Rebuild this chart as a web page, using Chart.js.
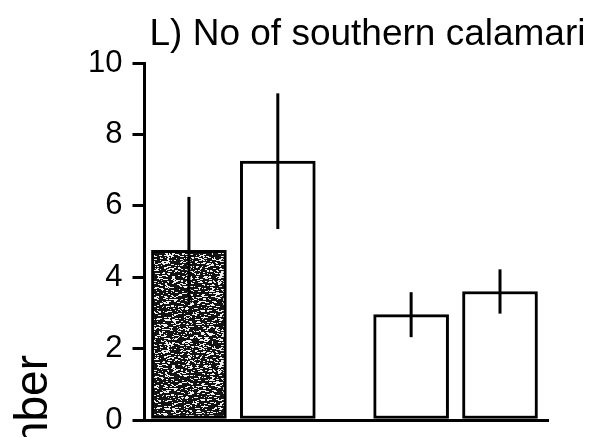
<!DOCTYPE html>
<html>
<head>
<meta charset="utf-8">
<script src="https://cdn.jsdelivr.net/npm/chart.js@4.4.1/dist/chart.umd.min.js"></script>
<style>
  html, body { margin: 0; padding: 0; background: #fff; }
  #wrap { width: 599px; height: 437px; }
</style>
</head>
<body>
<div id="wrap"><canvas id="myChart" width="599" height="437"></canvas></div>
<script>
// Chart data
const titleText = 'L) No of southern calamari';
const yLabel = 'Number';
const groupX = [1, 2, 3.5, 4.5];          // bar order along the x axis (gap between pairs)
const means = [4.75, 7.25, 2.95, 3.6];
const errors = [1.5, 1.9, 0.63, 0.62];
const yTicks = [0, 2, 4, 6, 8, 10];

// Stippled dark fill for the first bar
function makeStipple() {
    const c = document.createElement('canvas');
    c.width = 97; c.height = 89;
    const g = c.getContext('2d');
    g.fillStyle = '#121212';
    g.fillRect(0, 0, c.width, c.height);
    g.fillStyle = '#f0f0f0';
    // cheap hash so the speckle is fixed from run to run
    const h = n => {
        const s = Math.sin(n * 12.9898 + 78.233) * 43758.5453;
        return s - Math.floor(s);
    };
    for (let i = 0; i < 1400; i++) {
        const px = Math.floor(h(i * 3 + 1) * c.width);
        const py = Math.floor(h(i * 3 + 2) * c.height);
        const len = 1 + Math.floor(h(i * 3 + 3) * 3);
        g.fillRect(px, py, len, 1);
    }
    return g.createPattern(c, 'repeat');
}

const fills = [makeStipple(), '#ffffff', '#ffffff', '#ffffff'];

// Error bars (vertical lines, no caps)
const errorBars = {
    id: 'errorBars',
    afterDatasetsDraw(chart) {
        const ctx = chart.ctx;
        const xs = chart.scales.x, ys = chart.scales.y;
        ctx.save();
        ctx.strokeStyle = '#000';
        ctx.lineWidth = 3;
        means.forEach((m, i) => {
            const x = xs.getPixelForValue(groupX[i]);
            ctx.beginPath();
            ctx.moveTo(x, ys.getPixelForValue(m - errors[i]));
            ctx.lineTo(x, ys.getPixelForValue(m + errors[i]));
            ctx.stroke();
        });
        ctx.restore();
    }
};

// Panel title and the (cropped) rotated y label
const labels = {
    id: 'labels',
    afterDraw(chart) {
        const ctx = chart.ctx;
        const area = chart.chartArea;
        ctx.save();
        ctx.fillStyle = '#000';
        ctx.font = '37px "Liberation Sans", Arial, sans-serif';
        ctx.textBaseline = 'alphabetic';
        ctx.textAlign = 'left';
        ctx.fillText(titleText, area.left + 5, 45);

        ctx.translate(47, 355);
        ctx.rotate(-Math.PI / 2);
        ctx.font = '46px "Liberation Sans", Arial, sans-serif';
        ctx.textAlign = 'right';
        ctx.fillText(yLabel, 0, 0);
        ctx.restore();
    }
};

window.onload = function () {
    const ctx = document.getElementById('myChart').getContext('2d');
    new Chart(ctx, {
        type: 'bar',
        data: {
            datasets: [{
                data: groupX.map((x, i) => ({ x: x, y: means[i] })),
                backgroundColor: fills,
                borderColor: '#000',
                borderWidth: 3,
                barThickness: 75,
                borderSkipped: false
            }]
        },
        options: {
            responsive: false,
            animation: false,
            layout: { padding: { left: 78, right: 51, top: 63, bottom: 17 } },
            scales: {
                x: {
                    type: 'linear',
                    offset: false,
                    min: 0.5,
                    max: 5.04,
                    grid: { display: false, drawTicks: false },
                    border: { display: true, color: '#000', width: 3 },
                    ticks: { display: false },
                    afterFit(scale) {
                        scale.height = 0;
                        scale.paddingLeft = 0;
                        scale.paddingRight = 0;
                    }
                },
                y: {
                    min: 0,
                    max: 10,
                    afterBuildTicks(scale) {
                        scale.ticks = yTicks.map(v => ({ value: v }));
                    },
                    afterFit(scale) {
                        scale.paddingTop = 0;
                        scale.paddingBottom = 0;
                    },
                    grid: {
                        drawOnChartArea: false,
                        drawTicks: true,
                        tickLength: 12,
                        color: '#000',
                        lineWidth: 3
                    },
                    border: { display: true, color: '#000', width: 3 },
                    ticks: {
                        color: '#000',
                        padding: 10,
                        font: { family: '"Liberation Sans", Arial, sans-serif', size: 31 }
                    }
                }
            },
            plugins: {
                legend: { display: false },
                tooltip: { enabled: false },
                title: { display: false }
            }
        },
        plugins: [errorBars, labels]
    });
};
</script>
</body>
</html>
